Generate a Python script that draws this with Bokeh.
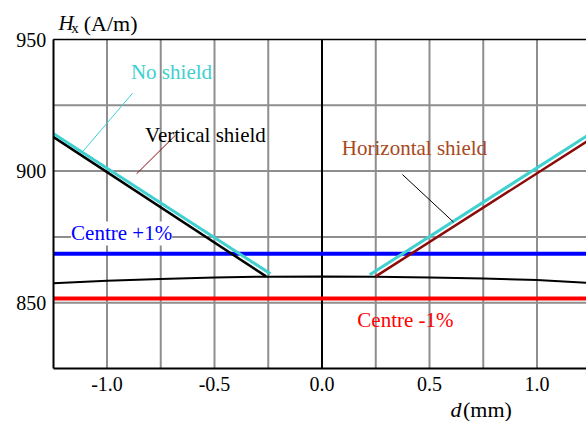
from bokeh.plotting import figure
from bokeh.models import FixedTicker, Label, LinearAxis, NumeralTickFormatter, Range1d
from bokeh.core.properties import value
from bokeh.embed import file_html
from bokeh.resources import INLINE

# ---- data ----
no_shield_left_x = [-1.25, -0.24]
no_shield_left_y = [914.3, 861.0]
no_shield_right_x = [0.222, 1.25]
no_shield_right_y = [860.6, 914.3]
vertical_x = [-1.25, -0.26]
vertical_y = [913.0, 860.0]
horizontal_x = [0.25, 1.25]
horizontal_y = [860.0, 912.2]
centre_x = [-1.25, -1.0, -0.75, -0.5, -0.25, 0.0, 0.25, 0.5, 0.75, 1.0, 1.25]
centre_y = [857.4, 858.3, 859.0, 859.6, 859.9, 860.0, 859.9, 859.6, 859.2, 858.6, 857.5]
centre_plus = 868.6
centre_minus = 851.6
x_ticks = [-1.0, -0.5, 0.0, 0.5, 1.0]
x_grid = [-1.0, -0.75, -0.5, -0.25, 0.25, 0.5, 0.75, 1.0]
y_ticks = [850, 900, 950]
y_grid = [850, 875, 900, 925]
x_min, x_max = -1.25, 1.25
y_min, y_max = 825, 950

FONT = "Liberation Serif"
CYAN = "#40D0D0"
DARKRED = "#8B0A0A"
BROWN = "#A8481E"
GRID = "#8E8E8E"

p = figure(width=586, height=421, output_backend="svg", toolbar_location=None,
           x_range=Range1d(-1.4953, 1.2302), y_range=Range1d(804.86, 964.82),
           x_axis_type=None, y_axis_type=None,
           min_border=0, min_border_left=0, min_border_right=0,
           min_border_top=0, min_border_bottom=0)
p.outline_line_color = None
p.background_fill_color = "white"
p.grid.visible = False

# grid lines (plot area only)
p.segment(x0=x_grid, y0=[y_min] * len(x_grid), x1=x_grid, y1=[y_max] * len(x_grid),
          line_color=GRID, line_width=2)
p.segment(x0=[x_min] * len(y_grid), y0=y_grid, x1=[x_max] * len(y_grid), y1=y_grid,
          line_color=GRID, line_width=2)
# top frame line and x = 0 line
p.segment(x0=[x_min], y0=[y_max], x1=[x_max], y1=[y_max], line_color="black", line_width=1.5)
p.segment(x0=[0], y0=[y_min], x1=[0], y1=[y_max], line_color="black", line_width=2)

# axes placed at the plot-area edges
xax = LinearAxis(fixed_location=y_min, ticker=FixedTicker(ticks=x_ticks),
                 formatter=NumeralTickFormatter(format="0.0"), bounds=(x_min, x_max))
yax = LinearAxis(fixed_location=x_min, ticker=FixedTicker(ticks=y_ticks), bounds=(y_min, y_max))
for ax in (xax, yax):
    ax.axis_line_color = "black"
    ax.axis_line_width = 2
    ax.major_tick_line_color = None
    ax.minor_tick_line_color = None
    ax.major_label_text_font = FONT
    ax.major_label_text_font_size = "20px"
    ax.major_label_text_color = "black"
xax.major_label_standoff = 3
yax.major_label_standoff = 1
p.add_layout(xax, "below")
p.add_layout(yax, "left")

# horizontal reference lines
p.line([x_min, x_max], [centre_plus, centre_plus], line_color="#0000FF", line_width=4)
p.line([x_min, x_max], [centre_minus, centre_minus], line_color="#FF0000", line_width=4)

# curves
p.line(centre_x, centre_y, line_color="black", line_width=2)
p.line(vertical_x, vertical_y, line_color="black", line_width=2.5)
p.line(no_shield_left_x, no_shield_left_y, line_color=CYAN, line_width=3)
p.line(horizontal_x, horizontal_y, line_color=DARKRED, line_width=2.5)
p.line(no_shield_right_x, no_shield_right_y, line_color=CYAN, line_width=3)

# pointer lines
p.line([-0.881, -1.113], [929.6, 907.4], line_color=CYAN, line_width=1)
p.line([-0.682, -0.862], [913.6, 899.0], line_color=DARKRED, line_width=1)
p.line([0.374, 0.612], [898.7, 880.6], line_color="black", line_width=1)

def lab(x, y, text, color="black", align="left", style="normal", size="21px", bg=None):
    l = Label(x=x, y=y, text=text, text_color=color, text_align=align,
              text_baseline="middle", text_font=FONT, text_font_size=size,
              text_font_style=style)
    if bg:
        l.background_fill_color = bg
        l.background_fill_alpha = 1.0
    p.add_layout(l)

lab(-0.70, 937.5, "No shield", CYAN, "center")
lab(-0.542, 913.9, "Vertical shield", "black", "center")
lab(0.430, 908.6, "Horizontal shield", BROWN, "center")
lab(-0.932, 876.3, "Centre +1%", "#0000FF", "center", bg="white")
lab(0.388, 843.6, "Centre -1%", "#FF0000", "center")

# axis titles as text glyphs
def txt(x, y, t, style="normal", size="22px"):
    p.text(x=[x], y=[y], text=[t], text_font=value(FONT), text_font_size=size,
           text_font_style=style, text_color="black", text_align="left",
           text_baseline="middle")

txt(-1.2256, 956.1, "H", "italic", "21px")
txt(-1.166, 954.3, "x", "normal", "15px")
txt(-1.108, 956.1, "(A/m)")
txt(0.5977, 809.4, "d", "italic")
txt(0.656, 809.4, "(mm)")

open("out.html", "w").write(file_html(p, INLINE))
